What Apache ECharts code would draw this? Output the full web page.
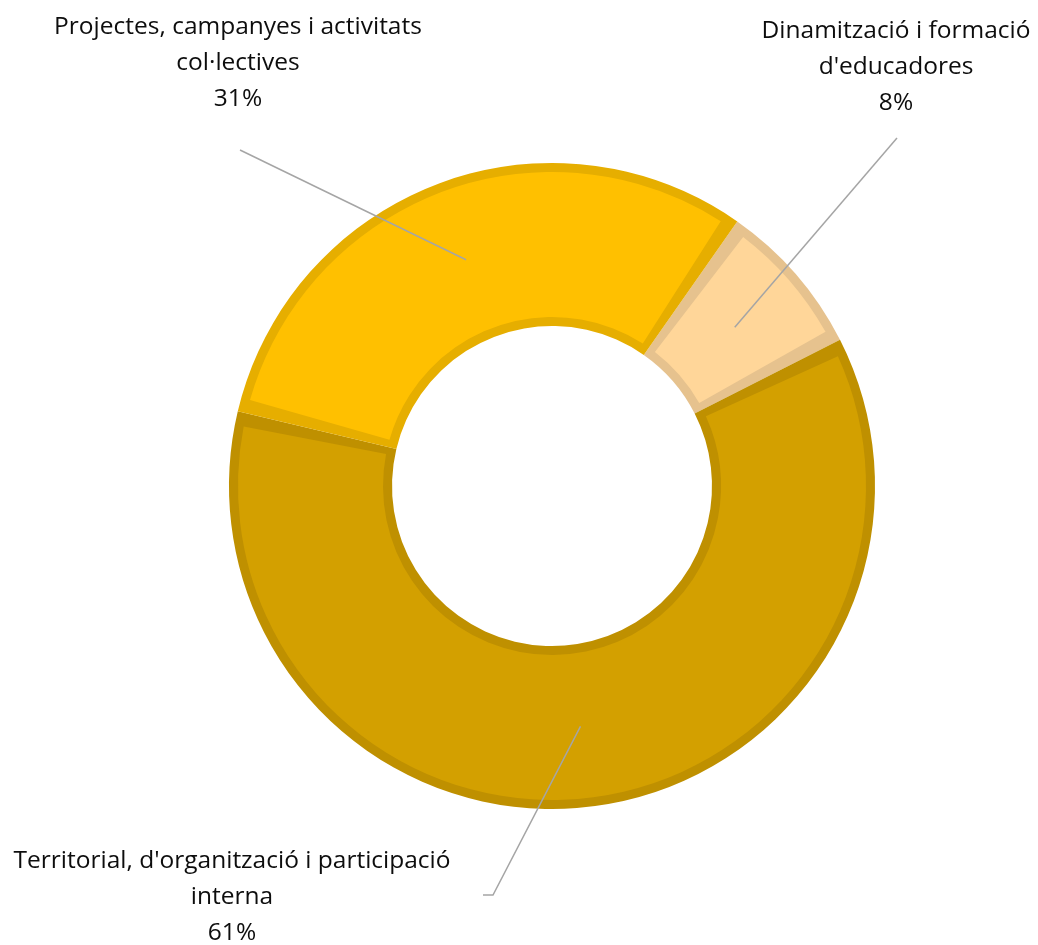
<!DOCTYPE html>
<html>
<head>
<meta charset="utf-8">
<script src="https://cdn.jsdelivr.net/npm/echarts@6/dist/echarts.min.js"></script>
<style>
html, body { margin: 0; padding: 0; background: #ffffff; }
#chart { width: 1038px; height: 945px; }
</style>
</head>
<body>
<div id="chart"></div>
<script>
// ---- data ----
const categories = [
  "Dinamització i formació\nd'educadores",
  "Territorial, d'organització i participació\ninterna",
  "Projectes, campanyes i activitats\ncol·lectives"
];
const values = [7.8, 61.2, 31.0];

// ---- styles ----
const fillColors = ['#FFD699', '#D3A000', '#FFC000'];
const edgeColors = ['#E6C28E', '#BF9000', '#E6AE00'];

// ---- layout (pixels) ----
const CENTER = [552, 486];
const labelAnchors = [[896, 67], [232, 897], [238, 63]];
const lineTargets = [
  [[897, 138], [897, 138]],
  [[493, 895], [483, 895]],
  [[240, 150], [240, 150]]
];

const chart = echarts.init(document.getElementById('chart'), null, { renderer: 'canvas' });

function makeData(colors) {
  return values.map((v, i) => ({
    name: categories[i],
    value: v,
    itemStyle: { color: colors[i] }
  }));
}

const common = {
  type: 'pie',
  center: CENTER,
  startAngle: 55,
  clockwise: true,
  silent: true,
  animation: false,
  avoidLabelOverlap: false,
  emphasis: { disabled: true }
};

const option = {
  backgroundColor: '#ffffff',
  animation: false,
  series: [
    Object.assign({}, common, {
      z: 1,
      radius: [160, 323],
      label: { show: false },
      labelLine: { show: false },
      data: makeData(edgeColors)
    }),
    Object.assign({}, common, {
      z: 2,
      radius: [169, 314],
      padAngle: 5,
      label: { show: false },
      labelLine: { show: false },
      data: makeData(fillColors)
    }),
    Object.assign({}, common, {
      z: 3,
      radius: [0, 242],
      itemStyle: { color: 'rgba(0,0,0,0)', borderWidth: 0 },
      data: values.map((v, i) => ({ name: categories[i], value: v, itemStyle: { color: 'rgba(0,0,0,0)' } })),
      label: {
        show: true,
        position: 'outside',
        color: '#0d0d0d',
        fontFamily: 'Open Sans',
        fontSize: 24.5,
        lineHeight: 36,
        align: 'center',
        width: 700,
        overflow: 'none',
        formatter: function (p) {
          return p.name + '\n' + Math.round(p.percent) + '%';
        }
      },
      labelLine: {
        show: true,
        length: 10,
        length2: 10,
        lineStyle: { color: '#A5A5A5', width: 1.5 }
      },
      labelLayout: function (params) {
        const i = params.dataIndex;
        const start = params.labelLinePoints ? params.labelLinePoints[0] : null;
        const res = {
          x: labelAnchors[i][0],
          y: labelAnchors[i][1],
          align: 'center',
          verticalAlign: 'middle'
        };
        if (start) {
          res.labelLinePoints = [start, lineTargets[i][0], lineTargets[i][1]];
        }
        return res;
      }
    })
  ]
};

chart.setOption(option);
</script>
</body>
</html>
